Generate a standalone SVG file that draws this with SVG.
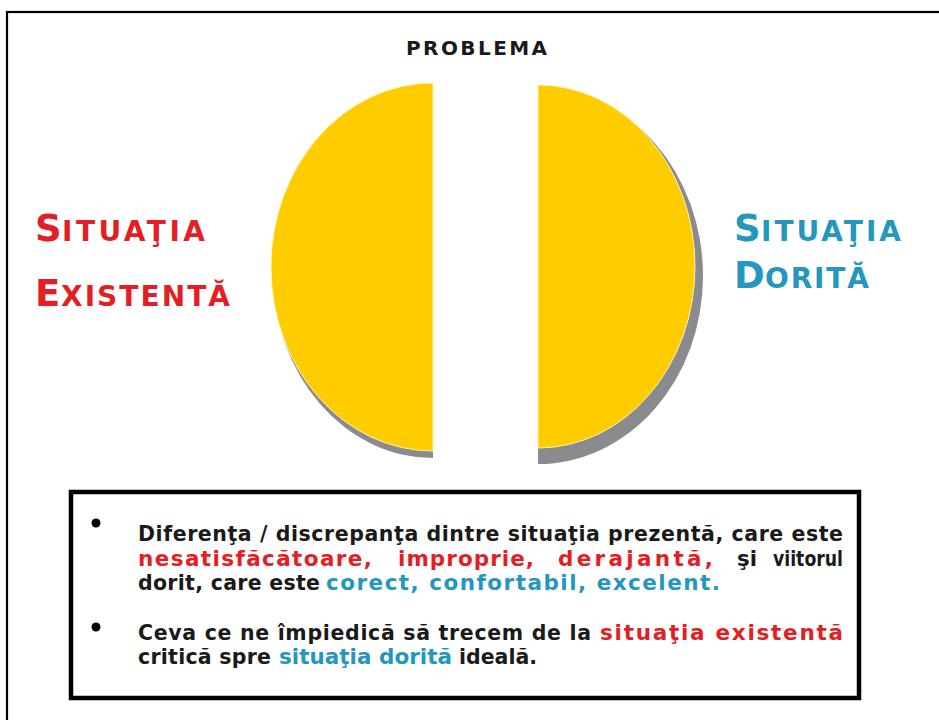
<svg xmlns="http://www.w3.org/2000/svg" width="939" height="720" viewBox="0 0 939 720">
<style>
  .t { font-family: "DejaVu Sans", "Liberation Sans", sans-serif; font-weight: bold; }
  .big { font-size: 37px; }
  .sc { font-size: 28px; }
  .body { font-size: 20.5px; }
  .col { font-size: 21.5px; }
  .red { fill: #E31E24; }
  .blue { fill: #2596BE; }
  .blk { fill: #1a1a1a; }
  .yel { fill: #FFCC00; stroke: #FFF2B3; stroke-width: 1; }
  .shd { fill: #8A8A8F; }
</style>
<rect x="0" y="0" width="939" height="720" fill="#ffffff"/>
<rect x="7" y="12" width="1000" height="1000" fill="none" stroke="#000" stroke-width="2.2"/>

<g id="title">
  <text class="t blk" x="406" y="55" font-size="20" textLength="141" lengthAdjust="spacing">PROBLEMA</text>
</g>

<g id="circle">
  <path class="shd" d="M538,88 A165 188 0 0 1 538,464 Z"/>
  <path class="shd" d="M433,88 A160 185 0 0 0 433,458 Z"/>
  <path class="yel" d="M433,83 A162 184 0 0 0 433,451 Z"/>
  <path class="yel" d="M538,85 A157 181.5 0 0 1 538,448 Z"/>
</g>

<g id="situatia-existenta">
  <text class="t big red" x="35" y="241">S</text>
  <text class="t sc red" x="62" y="241" textLength="143" lengthAdjust="spacing">ITUAŢIA</text>
  <text class="t big red" x="35" y="306">E</text>
  <text class="t sc red" x="61" y="306" textLength="169" lengthAdjust="spacing">XISTENTĂ</text>
</g>

<g id="situatia-dorita">
  <text class="t big blue" x="734" y="241">S</text>
  <text class="t sc blue" x="761" y="241" textLength="140" lengthAdjust="spacing">ITUAŢIA</text>
  <text class="t big blue" x="734" y="288">D</text>
  <text class="t sc blue" x="765" y="288" textLength="104" lengthAdjust="spacing">ORITĂ</text>
</g>

<g id="definition-box">
  <rect x="73" y="494" width="788" height="206" fill="#9a9a9a" opacity="0.5"/>
  <rect x="71" y="492" width="788" height="206" fill="#ffffff" stroke="#000" stroke-width="4.5"/>
  <circle cx="96" cy="523" r="4.5" fill="#000"/>
  <circle cx="96" cy="627" r="4.5" fill="#000"/>
  <text class="t body blk" x="138" y="541" textLength="705" lengthAdjust="spacing">Diferenţa / discrepanţa dintre situaţia prezentă, care este</text>
  <text class="t col red" x="138" y="566" textLength="234" lengthAdjust="spacing">nesatisfăcătoare,</text>
  <text class="t col red" x="398" y="566" textLength="136" lengthAdjust="spacing">improprie,</text>
  <text class="t col red" x="558" y="566" textLength="155" lengthAdjust="spacing">derajantă,</text>
  <text class="t body blk" x="737" y="566" textLength="20" lengthAdjust="spacingAndGlyphs">şi</text>
  <text class="t body blk" x="773" y="566" textLength="70" lengthAdjust="spacingAndGlyphs">viitorul</text>
  <text class="t body blk" x="138" y="590" textLength="182" lengthAdjust="spacing">dorit, care este</text>
  <text class="t col blue" x="326" y="590" textLength="394" lengthAdjust="spacing">corect, confortabil, excelent.</text>
  <text class="t body blk" x="138" y="640" textLength="453" lengthAdjust="spacing">Ceva ce ne împiedică să trecem de la</text>
  <text class="t col red" x="600" y="640" textLength="243" lengthAdjust="spacing">situaţia existentă</text>
  <text class="t body blk" x="138" y="664" textLength="133" lengthAdjust="spacing">critică spre</text>
  <text class="t col blue" x="279" y="664" textLength="173" lengthAdjust="spacing">situaţia dorită</text>
  <text class="t body blk" x="459" y="664">ideală.</text>
</g>
<g id="connectors"/>
</svg>
